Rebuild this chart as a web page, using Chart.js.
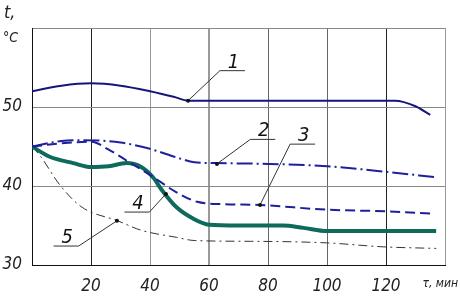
<!DOCTYPE html>
<html>
<head>
<meta charset="utf-8">
<script src="https://cdn.jsdelivr.net/npm/chart.js@4.4.1/dist/chart.umd.min.js"></script>
<style>
  body { margin: 0; background: #fff; }
  #wrap { width: 460px; height: 299px; }
</style>
</head>
<body>
<div id="wrap"><canvas id="chart" width="460" height="299"></canvas></div>
<script>
// time values (min) and temperatures (°C) for each curve
let time1 = [0, 10, 20, 30, 40, 48, 53, 60, 80, 100, 120, 123, 130, 135];
let temp1 = [52.0, 52.7, 53.0, 52.7, 52.0, 51.3, 50.8, 50.8, 50.8, 50.8, 50.8, 50.8, 50.1, 49.0];

let time2 = [0, 10, 17, 30, 39, 50, 55, 62, 80, 100, 120, 137];
let temp2 = [45.0, 45.7, 45.8, 45.5, 44.8, 43.5, 43.0, 42.9, 42.8, 42.5, 41.8, 41.1];

let time3 = [0, 10, 20, 26, 33, 40, 49, 56, 65, 77, 100, 120, 136];
let temp3 = [45.0, 45.4, 45.6, 44.6, 43.0, 41.4, 39.2, 38.0, 37.7, 37.6, 37.0, 36.8, 36.5];

let time4 = [0, 6, 14, 20, 26, 32, 37, 41, 44, 49, 55, 60, 70, 85, 92, 100, 120, 137];
let temp4 = [45.0, 43.7, 42.9, 42.4, 42.5, 42.9, 42.4, 41.1, 39.5, 37.3, 35.8, 35.1, 35.0, 35.0, 34.7, 34.3, 34.3, 34.3];

let time5 = [0, 3, 9.5, 17, 29, 37, 49, 55, 74, 100, 119, 137];
let temp5 = [45.0, 43.7, 40.1, 37.3, 35.6, 34.4, 33.5, 33.1, 33.0, 32.8, 32.3, 32.1];

let xTicks = [20, 40, 60, 80, 100, 120];
let yTicks = [30, 40, 50];

// curve number labels: point on curve, start of underline, underline direction
let labelNames = ['1', '2', '3', '4', '5'];
let labelPointX = [52.9, 62.7, 77.3, 45.4, 28.8];
let labelPointY = [50.8, 42.8, 37.6, 39.0, 35.6];
let labelLineX = [63.7, 74.0, 87.5, 39.8, 15.8];
let labelLineY = [54.6, 45.9, 45.3, 36.7, 32.4];
let labelDir = [1, 1, 1, -1, -1];

let font = "'DejaVu Sans Condensed', 'DejaVu Sans', sans-serif";

function toPoints(xs, ys) {
    return xs.map((x, i) => ({ x: x, y: ys[i] }));
}

function makeSet(xs, ys, color, width, dash) {
    return {
        data: toPoints(xs, ys),
        borderColor: color,
        borderWidth: width,
        borderDash: dash,
        pointRadius: 0,
        fill: false,
        cubicInterpolationMode: 'monotone'
    };
}

// draws axis names and the numbered leaders
let notes = {
    id: 'notes',
    afterDatasetsDraw(chart) {
        let ctx = chart.ctx;
        let xs = chart.scales.x;
        let ys = chart.scales.y;
        let area = chart.chartArea;
        ctx.save();
        ctx.fillStyle = '#222';
        ctx.textBaseline = 'alphabetic';
        ctx.textAlign = 'left';
        ctx.font = 'italic 18px ' + font;
        ctx.fillText('t,', 4, 18);
        ctx.font = 'italic 14px ' + font;
        ctx.fillText('°C', 3, 42);
        ctx.font = 'italic 12px ' + font;
        ctx.textAlign = 'right';
        ctx.fillText('τ, мин', 458, area.bottom + 22);

        for (let i = 0; i < labelNames.length; i++) {
            let px = xs.getPixelForValue(labelPointX[i]);
            let py = ys.getPixelForValue(labelPointY[i]);
            let lx = xs.getPixelForValue(labelLineX[i]);
            let ly = ys.getPixelForValue(labelLineY[i]);
            let ex = lx + labelDir[i] * 25;
            ctx.strokeStyle = '#333';
            ctx.lineWidth = 1;
            ctx.beginPath();
            ctx.moveTo(px, py);
            ctx.lineTo(lx, ly);
            ctx.lineTo(ex, ly);
            ctx.stroke();
            ctx.fillStyle = '#111';
            ctx.beginPath();
            ctx.arc(px, py, 2, 0, Math.PI * 2);
            ctx.fill();
            ctx.font = 'italic 20px ' + font;
            ctx.textAlign = 'center';
            ctx.fillText(labelNames[i], (lx + ex) / 2 + 1, ly - 3);
        }
        ctx.restore();
    }
};

let ctx = document.getElementById('chart').getContext('2d');
let chart = new Chart(ctx, {
    type: 'line',
    data: {
        datasets: [
            makeSet(time1, temp1, '#16167a', 2, []),
            makeSet(time2, temp2, '#1f1fa0', 2, [16, 4, 2, 4]),
            makeSet(time3, temp3, '#1f1f9a', 2, [10, 5]),
            makeSet(time4, temp4, '#0e6b5c', 4, []),
            makeSet(time5, temp5, '#333333', 1, [9, 4, 2, 4])
        ]
    },
    options: {
        responsive: false,
        animation: false,
        layout: { padding: { top: 28, right: 15, left: 0, bottom: 0 } },
        plugins: { legend: { display: false }, tooltip: { enabled: false } },
        scales: {
            x: {
                type: 'linear',
                min: 0,
                max: 140,
                afterBuildTicks(scale) {
                    scale.ticks = [0].concat(xTicks, [140]).map(v => ({ value: v }));
                },
                afterFit(scale) { scale.height = 34; },
                border: { color: '#111', width: 1 },
                grid: {
                    drawTicks: false,
                    color(c) {
                        let v = c.tick.value;
                        if (v === 20 || v === 120) return '#222';
                        if (v === 80 || v === 100) return '#666';
                        return '#999';
                    },
                    lineWidth(c) { return c.tick.value === 60 ? 2 : 1; }
                },
                ticks: {
                    padding: 11,
                    color: '#222',
                    font: { family: font, size: 17, style: 'italic' },
                    callback(v) { return xTicks.includes(v) ? String(v) : ''; }
                }
            },
            y: {
                min: 30,
                max: 60,
                afterBuildTicks(scale) {
                    scale.ticks = yTicks.concat([60]).map(v => ({ value: v }));
                },
                afterFit(scale) { scale.width = 32; },
                border: { color: '#111', width: 1 },
                grid: { drawTicks: false, color: '#888' },
                ticks: {
                    padding: 10,
                    color: '#222',
                    font: { family: font, size: 17, style: 'italic' },
                    callback(v) { return yTicks.includes(v) ? String(v) : ''; }
                }
            }
        }
    },
    plugins: [notes]
});
</script>
</body>
</html>
